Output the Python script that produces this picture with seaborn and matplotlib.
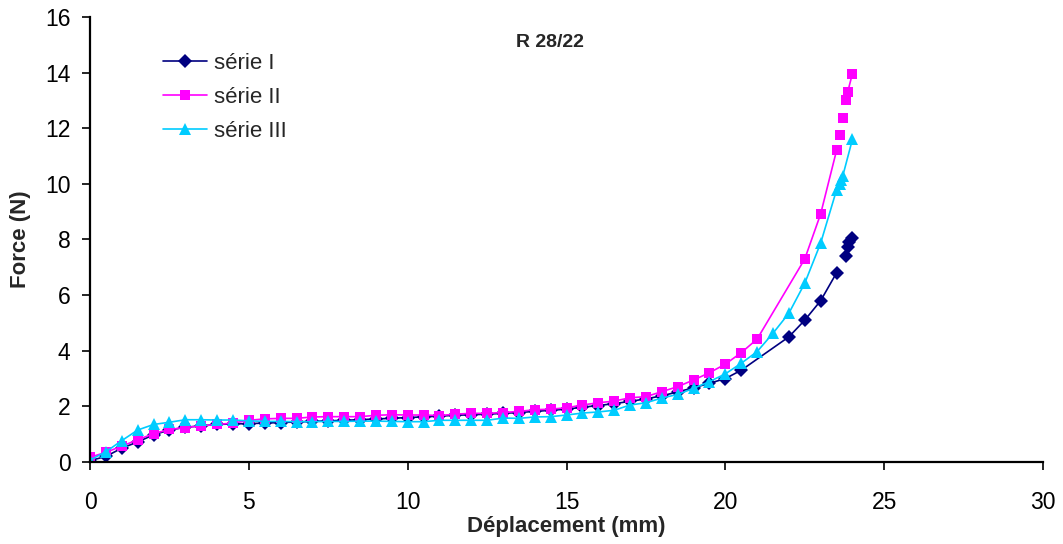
import matplotlib
matplotlib.use("Agg")
import matplotlib.pyplot as plt
from matplotlib.lines import Line2D
import seaborn as sns
import pandas as pd

# Displacement (mm) and force (N) for the three test series
x_serie1 = [0, 0.5, 1, 1.5, 2, 2.5, 3, 3.5, 4, 4.5, 5, 5.5, 6, 6.5, 7, 7.5, 8, 8.5,
            9, 9.5, 10, 10.5, 11, 11.5, 12, 12.5, 13, 13.5, 14, 14.5, 15, 15.5, 16,
            16.5, 17, 17.5, 18, 18.5, 19, 19.5, 20, 20.5, 22, 22.5, 23, 23.5,
            23.8, 23.85, 23.9, 24.0]
y_serie1 = [0.05, 0.2, 0.5, 0.72, 0.98, 1.15, 1.25, 1.3, 1.35, 1.37, 1.38, 1.4, 1.42,
            1.44, 1.46, 1.48, 1.5, 1.52, 1.55, 1.57, 1.6, 1.62, 1.65, 1.68, 1.7, 1.72,
            1.75, 1.78, 1.82, 1.86, 1.9, 1.97, 2.03, 2.1, 2.18, 2.27, 2.38, 2.52, 2.67,
            2.83, 3.0, 3.3, 4.5, 5.1, 5.8, 6.8, 7.42, 7.72, 7.92, 8.05]
piece_serie1 = [0] * 46 + [1] * 4

x_serie2 = [0, 0.5, 1, 1.5, 2, 2.5, 3, 3.5, 4, 4.5, 5, 5.5, 6, 6.5, 7, 7.5, 8, 8.5,
            9, 9.5, 10, 10.5, 11, 11.5, 12, 12.5, 13, 13.5, 14, 14.5, 15, 15.5, 16,
            16.5, 17, 17.5, 18, 18.5, 19, 19.5, 20, 20.5, 21, 22.5, 23, 23.5,
            23.6, 23.7, 23.8, 23.85, 24.0]
y_serie2 = [0.17, 0.35, 0.57, 0.8, 1.02, 1.17, 1.24, 1.3, 1.35, 1.4, 1.5, 1.55, 1.57,
            1.57, 1.62, 1.63, 1.63, 1.63, 1.68, 1.7, 1.69, 1.69, 1.67, 1.72, 1.75, 1.75,
            1.78, 1.82, 1.88, 1.9, 1.95, 2.05, 2.13, 2.19, 2.31, 2.35, 2.53, 2.71, 2.95,
            3.21, 3.52, 3.93, 4.42, 7.3, 8.92, 11.2, 11.76, 12.36, 13.0, 13.3, 13.96]
piece_serie2 = [0] * 46 + [1, 2, 3, 3, 3]

x_serie3 = [0, 0.5, 1, 1.5, 2, 2.5, 3, 3.5, 4, 4.5, 5, 5.5, 6, 6.5, 7, 7.5, 8, 8.5,
            9, 9.5, 10, 10.5, 11, 11.5, 12, 12.5, 13, 13.5, 14, 14.5, 15, 15.5, 16,
            16.5, 17, 17.5, 18, 18.5, 19, 19.5, 20, 20.5, 21, 21.5, 22, 22.5, 23,
            23.5, 23.6, 23.65, 23.7, 24.0]
y_serie3 = [0.07, 0.37, 0.77, 1.15, 1.35, 1.43, 1.52, 1.52, 1.51, 1.51, 1.48, 1.46,
            1.46, 1.45, 1.45, 1.46, 1.46, 1.47, 1.47, 1.46, 1.45, 1.45, 1.5, 1.5, 1.5,
            1.5, 1.58, 1.57, 1.62, 1.63, 1.69, 1.76, 1.8, 1.86, 2.05, 2.13, 2.3, 2.43,
            2.65, 2.89, 3.17, 3.55, 3.97, 4.63, 5.35, 6.43, 7.87, 9.78, 10.0, 10.15,
            10.3, 11.6]
piece_serie3 = [0] * len(x_serie3)

series_names = ["série I", "série II", "série III"]
series_colors = ["#000080", "#FF00FF", "#00CCFF"]
series_markers = ["D", "s", "^"]
marker_sizes = {"D": 6.8, "s": 7.6, "^": 9.2}

frames = []
for name, xs, ys, pieces in zip(series_names,
                                [x_serie1, x_serie2, x_serie3],
                                [y_serie1, y_serie2, y_serie3],
                                [piece_serie1, piece_serie2, piece_serie3]):
    frames.append(pd.DataFrame({"Déplacement": xs, "Force": ys, "série": name,
                                "morceau": [f"{name}-{p}" for p in pieces]}))
df = pd.concat(frames, ignore_index=True)

sns.set_style("ticks")
plt.rcParams["font.family"] = ["Liberation Sans", "DejaVu Sans"]

fig = plt.figure(figsize=(10.63, 5.44), dpi=100)
ax = fig.add_axes([0.0847, 0.1507, 0.8965, 0.8181])

sns.lineplot(data=df, x="Déplacement", y="Force", hue="série", style="série",
             units="morceau", estimator=None, sort=False,
             palette=dict(zip(series_names, series_colors)),
             markers=dict(zip(series_names, series_markers)), dashes=False,
             linewidth=1.2, markersize=7, markeredgewidth=0, ax=ax, legend=False)

# Per-series marker sizes
for line in ax.lines:
    m = line.get_marker()
    if m in marker_sizes:
        line.set_markersize(marker_sizes[m])

ax.set_xlim(0, 30)
ax.set_ylim(0, 16)
ax.set_xticks(range(0, 31, 5))
ax.set_yticks(range(0, 17, 2))
ax.tick_params(axis="both", direction="out", length=6, width=1.2,
               labelsize=16.5, colors="black")
ax.tick_params(axis="x", pad=15)
ax.tick_params(axis="y", pad=8)
for side in ["left", "bottom"]:
    ax.spines[side].set_linewidth(1.6)
    ax.spines[side].set_color("black")
sns.despine(ax=ax)

ax.set_xlabel("Déplacement (mm)", fontsize=16, fontweight="bold", labelpad=1)
ax.set_ylabel("Force (N)", fontsize=16, fontweight="bold", labelpad=10)
ax.text(0.483, 0.943, "R 28/22", transform=ax.transAxes, ha="center", va="center",
        fontsize=14, fontweight="bold")

handles = [Line2D([0], [0], color=c, marker=m, lw=1.2, markeredgewidth=0,
                  markersize=marker_sizes[m])
           for c, m in zip(series_colors, series_markers)]
ax.legend(handles, series_names, loc="upper left", bbox_to_anchor=(0.067, 0.94),
          frameon=False, fontsize=16, handlelength=2.0, handletextpad=0.3,
          labelspacing=0.6, borderaxespad=0)

fig.savefig("out.png", dpi=100)
